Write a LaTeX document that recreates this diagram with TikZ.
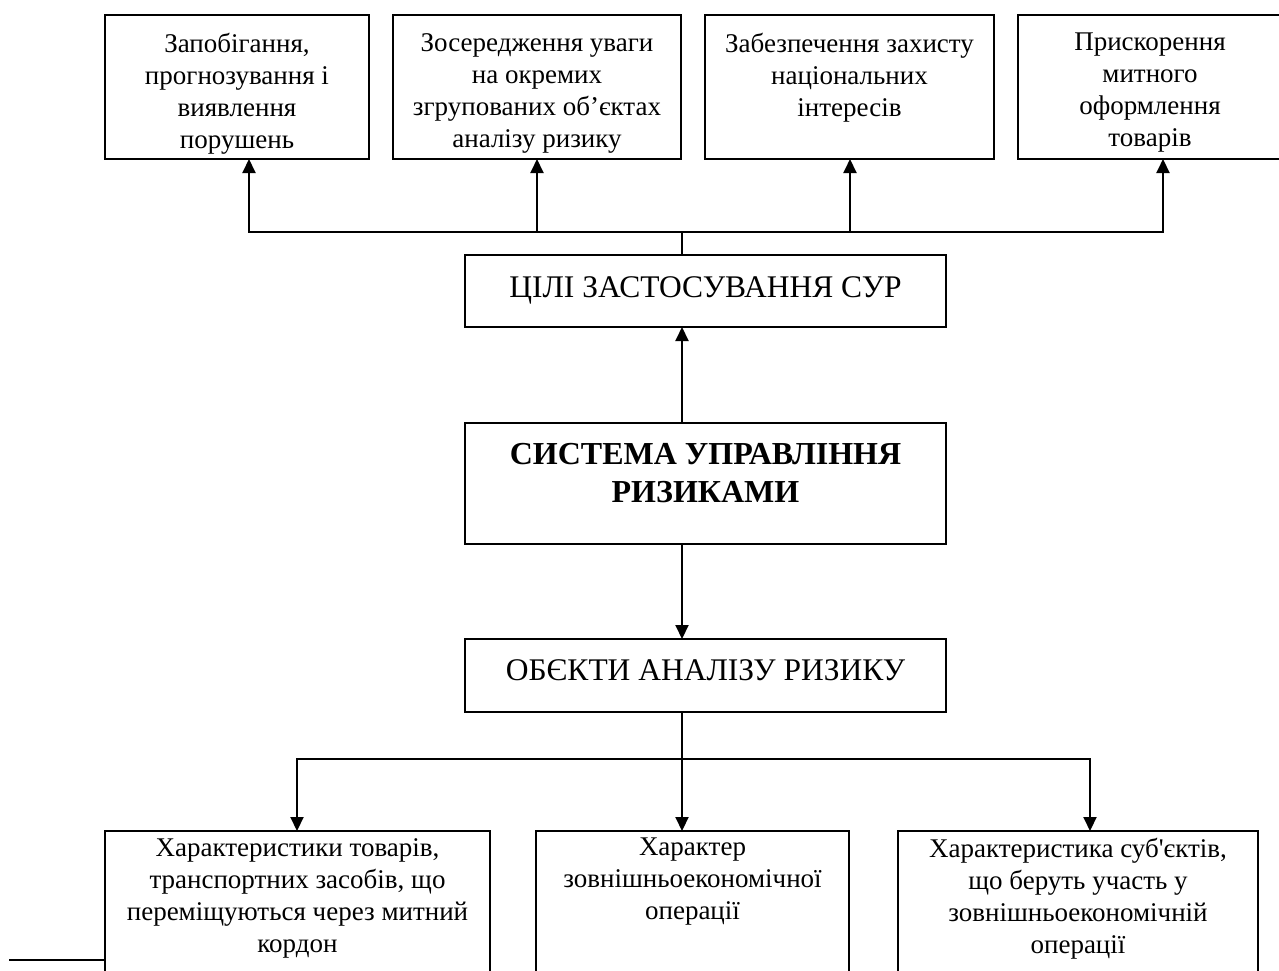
\documentclass[tikz,border=0pt]{standalone}
\usepackage{fontspec}
\setmainfont{Liberation Serif}
\usetikzlibrary{arrows.meta}

\begin{document}
\begin{tikzpicture}[x=1pt,y=-1pt,
  box/.style={draw, line width=2pt, inner sep=0pt, outer sep=0pt,
    anchor=north west, minimum height=#1},
  box/.default=144pt,
  txt/.style={anchor=north, inner sep=0pt, align=center,
    font=\fontsize{27}{32}\selectfont},
  captxt/.style={anchor=north, inner sep=0pt, align=center,
    font=\fontsize{31.5}{37}\selectfont},
  boldtxt/.style={anchor=north, inner sep=0pt, align=center,
    font=\fontsize{32}{38.5}\selectfont\bfseries},
  link/.style={line width=2pt},
  arr/.style={line width=2pt, -{Triangle[length=14pt,width=13pt]}}
]
\clip (0,0) rectangle (1279,970);
\fill[white] (0,0) rectangle (1279,970);

% goal boxes along the top
\node[box, minimum width=264pt] (t1) at (105,15) {};
\node[box, minimum width=288pt] (t2) at (393,15) {};
\node[box, minimum width=289pt] (t3) at (705,15) {};
\node[box, minimum width=264pt] (t4) at (1018,15) {};

\node[txt] (t1txt) at ([yshift=-18pt]t1.north) {Запобігання,\\прогнозування і\\виявлення\\порушень};
\node[txt] (t2txt) at ([yshift=-18pt]t2.north) {Зосередження уваги\\на окремих\\згрупованих об’єктах\\аналізу ризику};
\node[txt] (t3txt) at ([yshift=-18pt]t3.north) {Забезпечення захисту\\національних\\інтересів};
\node[txt] (t4txt) at ([yshift=-18pt]t4.north) {Прискорення\\митного\\оформлення\\товарів};

% central column
\node[box=72pt, minimum width=481pt] (goals) at (465,255) {};
\node[box=121pt, minimum width=481pt] (sys) at (465,423) {};
\node[box=73pt, minimum width=481pt] (obj) at (465,639) {};

\node[captxt] (goalstxt) at ([yshift=-21pt]goals.north) {ЦІЛІ ЗАСТОСУВАННЯ СУР};
\node[boldtxt] (systxt) at ([yshift=-20pt]sys.north) {СИСТЕМА УПРАВЛІННЯ\\РИЗИКАМИ};
\node[captxt] (objtxt) at ([yshift=-20pt]obj.north) {ОБЄКТИ АНАЛІЗУ РИЗИКУ};

% objects of analysis along the bottom
\node[box=200pt, minimum width=385pt] (b1) at (105,831) {};
\node[box=200pt, minimum width=313pt] (b2) at (536,831) {};
\node[box=200pt, minimum width=360pt] (b3) at (898,831) {};

\node[txt] (b1txt) at ([yshift=-7pt]b1.north) {Характеристики товарів,\\транспортних засобів, що\\переміщуються через митний\\кордон};
\node[txt] (b2txt) at ([yshift=-7pt]b2.north) {Характер\\зовнішньоекономічної\\операції};
\node[txt] (b3txt) at ([yshift=-7pt]b3.north) {Характеристика суб\textquotesingle єктів,\\що беруть участь у\\зовнішньоекономічній\\операції};

% connector positions
\coordinate (axis) at (682,0);
\coordinate (topbus) at (682,232);
\coordinate (botbus) at (682,759);
\coordinate (a1) at (249,0);
\coordinate (a2) at (537,0);
\coordinate (a3) at (850,0);
\coordinate (a4) at (1163,0);
\coordinate (c1) at (297,0);
\coordinate (c3) at (1090,0);
\coordinate (stub) at (9,960);

% system -> goals -> goal boxes
\draw[arr] (axis |- sys.north) -- (axis |- goals.south);
\draw[link] (axis |- goals.north) -- (topbus);
\draw[arr] (topbus) -| (a1 |- t1.south);
\draw[arr] (topbus) -| (a4 |- t4.south);
\draw[arr] (a2 |- topbus) -- (a2 |- t2.south);
\draw[arr] (a3 |- topbus) -- (a3 |- t3.south);

% system -> objects -> object boxes
\draw[arr] (axis |- sys.south) -- (axis |- obj.north);
\draw[arr] (axis |- obj.south) -- (axis |- b2.north);
\draw[arr] (botbus) -| (c1 |- b1.north);
\draw[arr] (botbus) -| (c3 |- b3.north);

\draw[link] (stub) -- (stub -| b1.west);
\end{tikzpicture}
\end{document}
